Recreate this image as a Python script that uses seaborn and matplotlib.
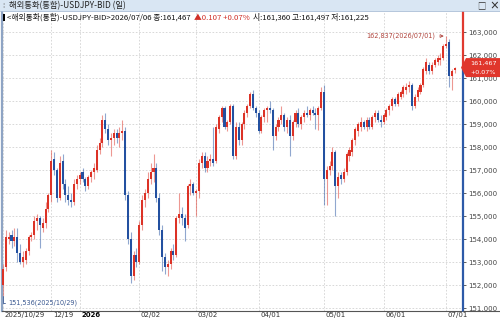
import matplotlib
matplotlib.use('Agg')
import matplotlib.pyplot as plt
from matplotlib import font_manager
from matplotlib.lines import Line2D
from matplotlib.patches import Rectangle, Polygon
from matplotlib.transforms import ScaledTranslation
import numpy as np
import pandas as pd
import seaborn as sns

# daily USDJPY-BID candles, 2025/10/29 .. 2026/07/06
opens = [152.0, 152.8, 154.0, 154.2, 153.9, 154.1, 153.4, 153.0, 153.1, 153.5,
         154.1, 154.2, 154.8, 154.9, 154.5, 154.7, 155.3, 155.9, 157.5, 157.0,
         155.8, 157.4, 156.4, 155.9, 155.7, 155.6, 156.4, 156.6, 156.9, 156.6,
         156.3, 156.7, 156.9, 157.0, 157.9, 158.2, 159.2, 158.8, 158.3, 158.4,
         158.6, 158.4, 158.6, 158.7, 155.9, 154.0, 152.4, 153.3, 153.0, 154.6,
         155.7, 156.0, 156.6, 156.9, 157.1, 155.8, 154.4, 153.2, 152.8, 152.9,
         153.5, 153.3, 154.9, 155.1, 154.9, 154.6, 156.3, 156.4, 156.0, 156.1,
         157.3, 157.6, 157.1, 157.4, 157.5, 157.4, 158.8, 159.3, 159.7, 158.9,
         159.1, 159.8, 157.6, 158.9, 158.3, 159.0, 159.5, 159.8, 160.3, 159.7,
         159.5, 158.7, 159.3, 159.6, 159.7, 159.6, 158.5, 158.9, 159.2, 159.4,
         158.9, 159.2, 158.5, 159.1, 159.5, 159.0, 159.3, 159.5, 159.4, 159.6,
         159.5, 159.4, 159.7, 160.4, 156.6, 157.0, 157.2, 157.8, 156.3, 156.8,
         156.6, 156.9, 157.6, 157.8, 158.3, 158.7, 158.9, 159.1, 158.9, 159.2,
         158.9, 159.3, 159.5, 159.2, 159.1, 159.3, 159.6, 159.8, 160.1, 159.9,
         160.2, 160.3, 160.5, 160.6, 160.7, 159.8, 160.2, 160.4, 160.7, 161.3,
         161.6, 161.3, 161.6, 161.7, 161.8, 161.9, 162.4, 162.6, 161.1, 161.36]
highs = [152.9, 154.4, 154.3, 154.4, 154.5, 154.5, 153.8, 153.5, 153.6, 154.2,
         154.3, 155.0, 155.1, 155.0, 154.9, 155.6, 156.0, 157.9, 157.8, 157.1,
         157.6, 157.7, 156.6, 156.3, 156.0, 156.6, 156.8, 156.9, 157.1, 156.7,
         156.8, 157.0, 157.3, 158.1, 158.4, 159.4, 159.5, 159.0, 158.6, 158.8,
         158.8, 158.9, 159.2, 158.9, 156.1, 154.3, 153.5, 153.6, 154.8, 155.9,
         156.2, 156.9, 157.3, 157.7, 157.3, 156.0, 154.6, 153.4, 153.1, 153.6,
         153.8, 155.0, 156.0, 155.4, 155.1, 156.4, 156.6, 156.5, 156.2, 157.5,
         157.8, 157.8, 157.6, 157.7, 158.9, 159.0, 159.4, 159.8, 159.8, 159.2,
         159.9, 159.9, 159.1, 159.1, 159.1, 159.6, 159.9, 160.4, 160.5, 159.8,
         159.6, 159.4, 159.7, 159.8, 160.0, 159.7, 159.0, 159.3, 159.8, 159.5,
         159.3, 159.4, 159.2, 159.6, 159.7, 159.4, 159.6, 159.8, 159.7, 159.8,
         159.7, 159.8, 160.6, 160.7, 157.2, 157.4, 158.0, 157.9, 156.9, 156.9,
         157.1, 157.8, 158.0, 158.4, 158.9, 159.1, 159.3, 159.2, 159.3, 159.3,
         159.4, 159.6, 159.6, 159.4, 159.5, 159.7, 159.9, 160.2, 160.2, 160.4,
         160.5, 160.7, 160.8, 160.9, 160.8, 160.3, 160.6, 160.8, 161.5, 161.9,
         161.7, 161.7, 161.9, 162.0, 162.1, 162.5, 162.837, 162.7, 161.4, 161.497]
lows = [151.536, 152.6, 153.8, 153.6, 153.7, 153.0, 152.9, 152.8, 152.9, 153.3,
        153.9, 154.0, 154.4, 153.6, 154.3, 154.5, 155.2, 155.6, 156.8, 155.6,
        155.7, 156.2, 155.6, 155.5, 155.4, 155.5, 156.2, 156.4, 156.5, 156.1,
        156.2, 156.5, 156.6, 156.9, 157.7, 158.0, 158.6, 158.1, 157.6, 158.1,
        158.2, 158.0, 158.3, 155.7, 153.8, 152.1, 152.2, 152.8, 152.9, 154.4,
        155.4, 155.8, 156.4, 156.5, 155.6, 154.2, 152.6, 152.5, 152.4, 152.7,
        153.1, 153.2, 154.7, 154.6, 153.9, 154.5, 155.9, 155.9, 155.0, 155.8,
        157.1, 156.9, 156.9, 157.2, 157.2, 157.3, 158.6, 159.1, 158.8, 158.7,
        159.0, 157.5, 157.5, 158.1, 158.1, 158.8, 159.3, 159.7, 159.6, 159.3,
        158.6, 158.6, 159.1, 159.1, 159.5, 157.9, 158.3, 158.7, 159.0, 158.7,
        158.6, 157.6, 158.3, 158.9, 158.9, 158.8, 159.1, 159.3, 159.2, 159.4,
        158.8, 158.75, 159.6, 155.5, 155.5, 156.8, 157.0, 155.0, 155.8, 156.4,
        156.5, 156.8, 157.4, 157.6, 158.1, 158.5, 158.7, 158.8, 158.7, 158.8,
        158.8, 159.1, 159.1, 158.9, 159.0, 159.2, 159.4, 159.6, 159.8, 159.8,
        160.1, 160.2, 160.3, 160.4, 159.6, 159.7, 160.0, 160.3, 160.6, 161.2,
        161.2, 161.2, 161.5, 161.6, 161.6, 161.8, 162.3, 160.6, 160.5, 161.225]
closes = [152.7, 154.1, 154.1, 153.9, 154.1, 153.4, 153.0, 153.2, 153.5, 154.1,
          154.2, 154.8, 154.9, 154.6, 154.7, 155.3, 155.9, 157.4, 157.0, 155.8,
          157.3, 156.4, 155.9, 155.7, 155.6, 156.4, 156.6, 156.8, 156.6, 156.3,
          156.7, 156.9, 157.1, 157.9, 158.2, 159.2, 158.8, 158.3, 158.4, 158.6,
          158.4, 158.6, 158.7, 155.9, 154.0, 152.4, 153.3, 153.0, 154.6, 155.7,
          156.0, 156.6, 156.9, 157.1, 155.8, 154.4, 153.2, 152.8, 152.9, 153.5,
          153.3, 154.9, 155.1, 154.9, 154.5, 156.3, 156.4, 156.0, 156.1, 157.3,
          157.6, 157.1, 157.4, 157.5, 157.3, 158.9, 159.3, 159.7, 158.9, 159.1,
          159.8, 157.6, 158.9, 158.3, 159.0, 159.5, 159.8, 160.3, 159.7, 159.5,
          158.7, 159.3, 159.6, 159.7, 159.6, 158.5, 158.9, 159.2, 159.4, 158.9,
          159.2, 158.5, 159.1, 159.5, 159.0, 159.3, 159.5, 159.4, 159.6, 159.5,
          159.4, 159.7, 160.4, 156.6, 157.0, 157.2, 157.8, 156.3, 156.7, 156.6,
          156.9, 157.7, 157.9, 158.3, 158.8, 159.0, 159.1, 158.9, 159.2, 158.9,
          159.3, 159.5, 159.2, 159.1, 159.4, 159.6, 159.8, 160.1, 159.9, 160.3,
          160.4, 160.6, 160.6, 160.7, 159.8, 160.2, 160.5, 160.7, 161.4, 161.7,
          161.3, 161.6, 161.8, 161.9, 161.9, 162.4, 162.5, 161.1, 161.3, 161.467]

tick_pos = [0, 17, 27, 48, 68, 90, 113, 134, 156]
tick_labels = ['2025/10/29', '12/19', '2026', '02/02', '03/02', '04/01', '05/01', '06/01', '07/01']
price_ticks = [151, 152, 153, 154, 155, 156, 157, 158, 159, 160, 161, 162, 163]

df = pd.DataFrame({'open': opens, 'high': highs, 'low': lows, 'close': closes})
df['idx'] = np.arange(len(df))
df['up'] = df['close'] >= df['open']

UP = '#dc3226'
DOWN = '#2350a0'
W, H = 500, 324

sns.set_theme(style='white')
installed = {f.name for f in font_manager.fontManager.ttflist}
narrow = 'Liberation Sans Narrow' if 'Liberation Sans Narrow' in installed else 'DejaVu Sans'
nsize = 7.0 if narrow != 'DejaVu Sans' else 5.0
plt.rcParams['font.family'] = ['Noto Sans CJK KR', 'DejaVu Sans']
plt.rcParams['axes.unicode_minus'] = False

fig = plt.figure(figsize=(W / 100, H / 100), dpi=100, facecolor='white')
ax = fig.add_axes([2 / W, 13 / H, 461 / W, 300 / H])
ax.set_facecolor('white')
ax.set_xlim(-0.35, 161.97)
ax.set_ylim(150.87, 163.93)

# dashed grid
for y in price_ticks:
    ax.axhline(y, color='#d2d2d2', lw=0.6, ls=(0, (2, 2)), zorder=0)
for x in tick_pos:
    ax.axvline(x, color='#d2d2d2', lw=0.6, ls=(0, (2, 2)), zorder=0)

# candles
for up, color in [(True, UP), (False, DOWN)]:
    d = df[df['up'] == up]
    ax.vlines(d['idx'], d['low'], d['high'], color=color, lw=0.8, alpha=0.5, zorder=2)
    body = (d['close'] - d['open']).abs().clip(lower=0.04)
    ax.bar(d['idx'], body, bottom=d[['open', 'close']].min(axis=1), width=0.72,
           color=color, lw=0, zorder=3)

# spines
ax.spines['top'].set_visible(False)
ax.spines['right'].set_visible(False)
ax.spines['left'].set_color('#8ea4c4')
ax.spines['left'].set_linewidth(1.6)
ax.spines['bottom'].set_color('#555555')
ax.spines['bottom'].set_linewidth(0.8)
fig.add_artist(Line2D([463 / W, 1], [13 / H, 13 / H], color='#555555', lw=0.8))

last = closes[-1]
frac = (last - 150.87) / (163.93 - 150.87)
ax.axvline(161.97, ymin=frac, ymax=1, color='#e03a30', lw=1.6, clip_on=False, zorder=4)
ax.axvline(161.97, ymin=0, ymax=frac, color='#2d5aa8', lw=1.6, clip_on=False, zorder=4)

# axes ticks
ax.yaxis.tick_right()
ax.set_yticks(price_ticks)
ax.set_yticklabels([f'{v:.3f}'.replace('.', ',') for v in price_ticks],
                   fontsize=nsize, family=narrow)
ax.tick_params(axis='y', direction='out', length=2.5, width=0.6, pad=1.5,
               colors='#444444')
ax.set_xticks(tick_pos)
ax.set_xticklabels(tick_labels, fontsize=nsize, family=narrow)
ax.tick_params(axis='x', direction='out', length=4, width=0.6, pad=-3,
               colors='#333333')
shift = ScaledTranslation(1.5 / 100, 0, fig.dpi_scale_trans)
for lbl in ax.get_xticklabels():
    lbl.set_ha('left')
    lbl.set_transform(lbl.get_transform() + shift)
ax.get_xticklabels()[2].set_fontweight('bold')
ax.get_xticklabels()[2].set_color('black')

# high / low markers
hi = int(np.argmax(highs))
ax.annotate('162,837(2026/07/01)', xy=(hi - 0.3, highs[hi]), xytext=(-7, 0.5),
            textcoords='offset points', ha='right', va='center', fontsize=nsize - 0.3,
            family=narrow, color='#b0453d',
            arrowprops=dict(arrowstyle='->', color='#b0453d', lw=0.6,
                            shrinkA=0.5, shrinkB=1.0, mutation_scale=5))
lo = int(np.argmin(lows))
ax.annotate('151,536(2025/10/29)', xy=(lo, lows[lo]), xytext=(4, -5),
            textcoords='offset points', ha='left', va='center', fontsize=nsize - 0.3,
            family=narrow, color='#3a5890',
            arrowprops=dict(arrowstyle='-', connectionstyle='angle,angleA=0,angleB=90,rad=0',
                            color='#3a5890', lw=0.6, shrinkA=0, shrinkB=0))

# current price flag
yc = ax.transData.transform((0, last))[1]
xs = [461, 466, 500, 500, 466]
ys = [yc, yc + 9.5, yc + 9.5, yc - 9.5, yc - 9.5]
fig.add_artist(Polygon(np.c_[np.array(xs) / W, np.array(ys) / H], closed=True,
                       transform=fig.transFigure, facecolor='#e0362c', edgecolor='none',
                       zorder=6))
fig.text(483 / W, (yc + 4.5) / H, f'{last:.3f}'.replace('.', ','), color='white',
         fontsize=nsize - 0.4, family=narrow, ha='center', va='center', zorder=7)
fig.text(483 / W, (yc - 4.5) / H, '+0.07%', color='white',
         fontsize=nsize - 0.4, family=narrow, ha='center', va='center', zorder=7)

# window title bar
fig.add_artist(Rectangle((0, 313 / H), 1, 11 / H, transform=fig.transFigure,
                         facecolor='#d9e6f3', edgecolor='none', zorder=5))
fig.add_artist(Line2D([0, 1], [313 / H, 313 / H], color='#a8bdd6', lw=0.6, zorder=6))
fig.text(2 / W, 1 - 6 / H, '⁞', fontsize=5, color='#777777', va='center', zorder=7)
fig.text(9 / W, 1 - 5.5 / H, '해외통화(통합)-USDJPY-BID (일)', fontsize=6.0,
         va='center', ha='left', color='#222222', zorder=7)
fig.text(481 / W, 1 - 5.5 / H, '□', fontsize=6, va='center', ha='center',
         color='#333333', zorder=7)
fig.text(494 / W, 1 - 5.5 / H, '×', fontsize=7, va='center', ha='center',
         color='#333333', fontweight='bold', zorder=7)

# info line
fig.add_artist(Rectangle((3 / W, 1 - 20.5 / H), 2 / W, 7 / H, transform=fig.transFigure,
                         facecolor='black', edgecolor='none', zorder=7))
renderer = fig.canvas.get_renderer()
segs = [('<해외통화(통합)-USDJPY-BID>2026/07/06 종:161,467', '#111111', 3),
        ('▲0.107 +0.07%', '#d03028', 4),
        ('시:161,360 고:161,497 저:161,225', '#111111', 0)]
xpos = 7 / W
for s, c, gap in segs:
    t = fig.text(xpos, 1 - 17.5 / H, s, fontsize=5.6, color=c, va='center', ha='left',
                 zorder=7)
    bb = t.get_window_extent(renderer)
    xpos = (bb.x1 + gap) / W

fig.savefig('out.png', dpi=100)
